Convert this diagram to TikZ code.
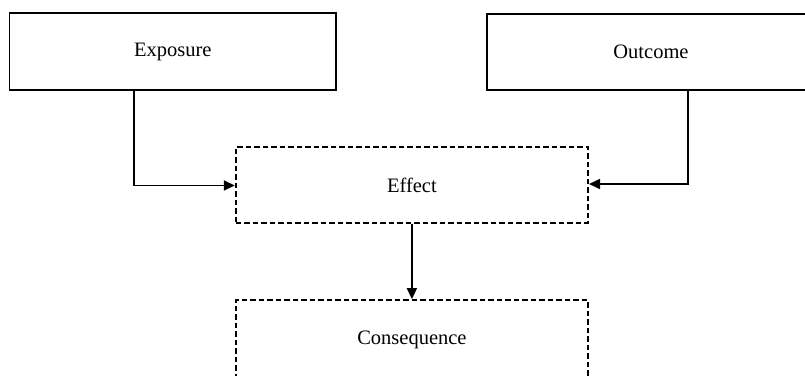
\documentclass[tikz,border=0pt]{standalone}
\usepackage{fontspec}
\setmainfont{Liberation Serif}
\usetikzlibrary{arrows.meta}
\begin{document}
\begin{tikzpicture}[x=1pt,y=-1pt,
  solidbox/.style={draw=black,line width=1.7pt,inner sep=0pt,font=\fontsize{20.5}{24}\selectfont},
  dashbox/.style={draw=black,line width=1.7pt,dash pattern=on 5.5pt off 3pt,inner sep=0pt,font=\fontsize{20.5}{24}\selectfont},
  conn/.style={draw=black,line width=1.6pt,-{Triangle[length=11pt,width=10pt]}}]
\useasboundingbox (0,0) rectangle (805,375);
\clip (0,0) rectangle (805,375);
\node[solidbox,minimum width=326.5pt,minimum height=77pt] (exp) at (172.75,51.5) {Exposure};
\node[solidbox,minimum width=328pt,minimum height=76pt] (out) at (651,52) {Outcome};
\node[dashbox,minimum width=352.5pt,minimum height=75.5pt] (eff) at (411.9,185) {Effect};
\node[dashbox,minimum width=352.5pt,minimum height=80pt] (con) at (411.9,340) {Consequence};
\coordinate (c1) at (134,185.5);
\coordinate (c2) at (688,184);
\draw[conn] (exp.south -| c1) -- (c1) -- (c1 -| eff.west);
\draw[conn] (out.south -| c2) -- (c2) -- (c2 -| eff.east);
\draw[conn] (eff.south) -- (con.north);
\end{tikzpicture}
\end{document}
